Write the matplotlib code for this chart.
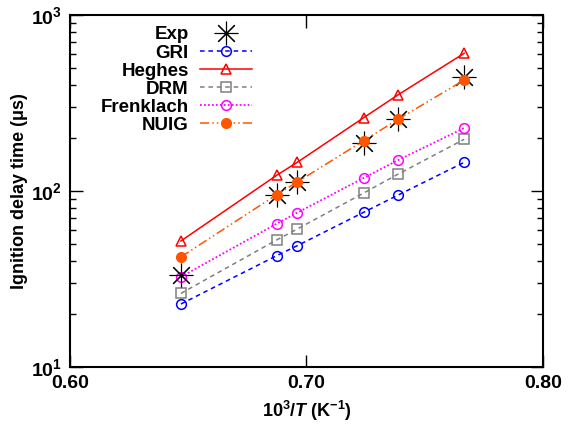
import math
import matplotlib
matplotlib.use("Agg")
import matplotlib.pyplot as plt
from matplotlib.ticker import FixedLocator, FuncFormatter, LogLocator, NullFormatter

plt.rcParams['font.family'] = ['Liberation Sans', 'DejaVu Sans']
plt.rcParams['font.weight'] = 'bold'
plt.rcParams['mathtext.fontset'] = 'custom'
plt.rcParams['mathtext.rm'] = 'Liberation Sans:bold'
plt.rcParams['mathtext.bf'] = 'Liberation Sans:bold'
plt.rcParams['mathtext.it'] = 'Liberation Sans:italic'

# 1000/T values
x = [0.6469, 0.6874, 0.6961, 0.7242, 0.7386, 0.7667]

exp = [33.2, 95.0, 112.0, 186.6, 255.0, 443.0]
gri = [22.8, 42.9, 48.9, 75.7, 94.6, 145.5]
heghes = [52.0, 122.8, 145.5, 261.0, 351.0, 606.0]
drm = [26.2, 52.7, 60.8, 97.4, 124.4, 196.7]
frenklach = [32.5, 65.2, 75.3, 118.6, 149.4, 228.0]
nuig = [42.2, 95.3, 112.5, 193.0, 255.0, 427.0]

fig = plt.figure(figsize=(5.77, 4.33), dpi=100)
ax = fig.add_axes([0.1213, 0.1524, 0.8197, 0.813])

ax.plot(x, exp, ls='none', marker=(8, 2, 0), ms=17, mec='black', mew=0.8,
        label='Exp', zorder=3)
ax.plot(x, gri, color='#0000ff', ls=(0, (3, 2.5)), lw=1.1, marker='o', ms=7,
        mfc='none', mec='#0000ff', mew=1.1, label='GRI')
ax.plot(x, heghes, color='#ff0000', ls='-', lw=1.1, marker='^', ms=7,
        mfc='none', mec='#ff0000', mew=1.1, label='Heghes')
ax.plot(x, drm, color='#808080', ls=(0, (3, 2.5)), lw=1.1, marker='s', ms=7,
        mfc='none', mec='#808080', mew=1.1, label='DRM')
ax.plot(x, frenklach, color='#ff00ff', ls=(0, (1, 1.2)), lw=1.3, marker='o', ms=7,
        mfc='none', mec='#ff00ff', mew=1.1, label='Frenklach')
ax.plot(x, nuig, color='#ff5500', ls=(0, (6, 2, 1, 2, 1, 2)), lw=1.1, marker='o', ms=7,
        mfc='#ff5500', mec='#ff5500', label='NUIG', zorder=4)

ax.set_yscale('log')
ax.set_xlim(0.60, 0.80)
ax.set_ylim(10, 1000)
ax.xaxis.set_major_locator(FixedLocator([0.60, 0.70, 0.80]))
ax.xaxis.set_major_formatter(FuncFormatter(lambda v, p: '%.2f' % v))
ax.yaxis.set_major_locator(LogLocator(base=10))
ax.yaxis.set_minor_locator(LogLocator(base=10, subs=range(2, 10)))
ax.yaxis.set_minor_formatter(NullFormatter())
ax.yaxis.set_major_formatter(FuncFormatter(lambda v, p: r'$\mathbf{10^{%d}}$' % round(math.log10(v))))

ax.tick_params(which='both', direction='in', top=True, right=True, width=1.0)
ax.tick_params(which='major', length=9, labelsize=14, pad=6)
ax.tick_params(which='minor', length=4.5)
for s in ax.spines.values():
    s.set_linewidth(1.5)

ax.set_xlabel(r'10$^{\mathbf{3}}$/$\mathit{T}$ (K$^{\mathbf{-1}}$)', fontsize=13,
              fontweight='bold', labelpad=5)
ax.set_ylabel('Ignition delay time (\u03bcs)', fontsize=13, fontweight='bold', labelpad=2)

leg = ax.legend(loc='upper left', bbox_to_anchor=(0.037, 1.005), markerfirst=False,
                frameon=False, fontsize=13.5, handlelength=2.8, handletextpad=0.6,
                labelspacing=0.05, borderaxespad=0.3)
for t in leg.get_texts():
    t.set_ha('right')

fig.savefig('out.png', dpi=100)
